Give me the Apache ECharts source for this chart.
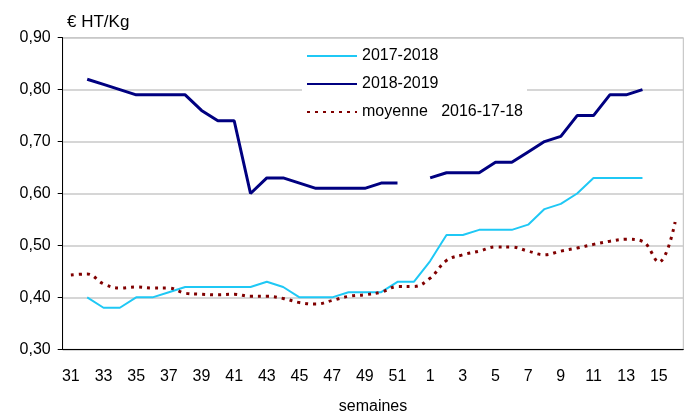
<!DOCTYPE html>
<html>
  <head>
    <meta charset="utf-8" />
    <title>Prix € HT/Kg par semaine</title>
    <script src="https://cdn.jsdelivr.net/npm/echarts@6/dist/echarts.min.js"></script>
    <style>
      body { margin: 0; background: #fff; }
      #chart { width: 691px; height: 412px; }
    </style>
  </head>
  <body>
    <div id="chart"></div>
    <script>
      // semaines 31 -> 52 puis 1 -> 16
      var weeks = ['31', '32', '33', '34', '35', '36', '37', '38', '39', '40', '41',
        '42', '43', '44', '45', '46', '47', '48', '49', '50', '51', '52',
        '1', '2', '3', '4', '5', '6', '7', '8', '9', '10', '11', '12', '13', '14', '15', '16'];

      var yTicks = [0.30, 0.40, 0.50, 0.60, 0.70, 0.80, 0.90];

      var names = ['2017-2018', '2018-2019', 'moyenne   2016-17-18'];

      var s20172018 = [null, 0.40, 0.38, 0.38, 0.40, 0.40, 0.41, 0.42, 0.42, 0.42, 0.42,
        0.42, 0.43, 0.42, 0.40, 0.40, 0.40, 0.41, 0.41, 0.41, 0.43, 0.43,
        0.47, 0.52, 0.52, 0.53, 0.53, 0.53, 0.54, 0.57, 0.58, 0.60, 0.63, 0.63, 0.63, 0.63, null, null];

      var s20182019 = [null, 0.82, 0.81, 0.80, 0.79, 0.79, 0.79, 0.79, 0.76, 0.74, 0.74,
        0.60, 0.63, 0.63, 0.62, 0.61, 0.61, 0.61, 0.61, 0.62, 0.62, null,
        0.63, 0.64, 0.64, 0.64, 0.66, 0.66, 0.68, 0.70, 0.71, 0.75, 0.75, 0.79, 0.79, 0.80, null, null];

      var moyenne = [0.443, 0.445, 0.426, 0.418, 0.420, 0.418, 0.418, 0.408, 0.406, 0.405, 0.406,
        0.402, 0.402, 0.398, 0.390, 0.387, 0.394, 0.402, 0.405, 0.410, 0.421, 0.421,
        0.437, 0.471, 0.482, 0.489, 0.497, 0.497, 0.489, 0.482, 0.489, 0.495, 0.502, 0.508, 0.512, 0.508, 0.468, 0.545];

      var font = 'Liberation Sans, Arial, sans-serif';

      var myChart = echarts.init(document.getElementById('chart'));
      var option = {
        animation: false,
        textStyle: { fontFamily: font },
        title: {
          text: '€ HT/Kg',
          left: 67,
          top: 14,
          padding: 0,
          textStyle: { fontSize: 17, fontWeight: 'normal', color: '#000', fontFamily: font }
        },
        legend: {
          data: names,
          orient: 'vertical',
          left: 302,
          top: 40,
          padding: [8, 4, 8, 4],
          backgroundColor: '#fff',
          itemWidth: 50,
          itemHeight: 14,
          itemGap: 12,
          itemStyle: { opacity: 0 },
          textStyle: { fontSize: 16, color: '#000', fontFamily: font }
        },
        grid: {
          left: 62.7,
          right: 7.7,
          top: 37.7,
          bottom: 62.7,
          outerBoundsMode: 'none',
          show: true,
          borderColor: '#bdbdbd',
          borderWidth: 1
        },
        xAxis: {
          type: 'category',
          data: weeks,
          boundaryGap: true,
          name: 'semaines',
          nameLocation: 'middle',
          nameGap: 49,
          nameTextStyle: { fontSize: 16, color: '#000', fontFamily: font },
          axisLine: { lineStyle: { color: '#000', width: 1 } },
          axisTick: { interval: 0, length: 5, lineStyle: { color: '#000' } },
          axisLabel: { interval: 1, margin: 19, fontSize: 16, color: '#000', fontFamily: font },
          splitLine: { show: false }
        },
        yAxis: {
          type: 'value',
          min: yTicks[0],
          max: yTicks[yTicks.length - 1],
          interval: 0.1,
          axisLine: { show: true, lineStyle: { color: '#000', width: 1 } },
          axisTick: { show: true, length: 5, lineStyle: { color: '#000' } },
          axisLabel: {
            margin: 12,
            fontSize: 16,
            color: '#000',
            fontFamily: font,
            formatter: function (v) { return v.toFixed(2).replace('.', ','); }
          },
          splitLine: { lineStyle: { color: '#c8c8c8', width: 1.5 } }
        },
        series: [{
          name: names[0],
          type: 'line',
          data: s20172018,
          symbol: 'none',
          lineStyle: { color: '#1fc8f5', width: 2 },
          itemStyle: { color: '#1fc8f5' }
        }, {
          name: names[1],
          type: 'line',
          data: s20182019,
          symbol: 'none',
          lineStyle: { color: '#000080', width: 3 },
          itemStyle: { color: '#000080' }
        }, {
          name: names[2],
          type: 'line',
          data: moyenne,
          symbol: 'none',
          smooth: 0.4,
          lineStyle: { color: '#800000', width: 3, type: [3, 5] },
          itemStyle: { color: '#800000' }
        }]
      };
      myChart.setOption(option);
    </script>
  </body>
</html>
